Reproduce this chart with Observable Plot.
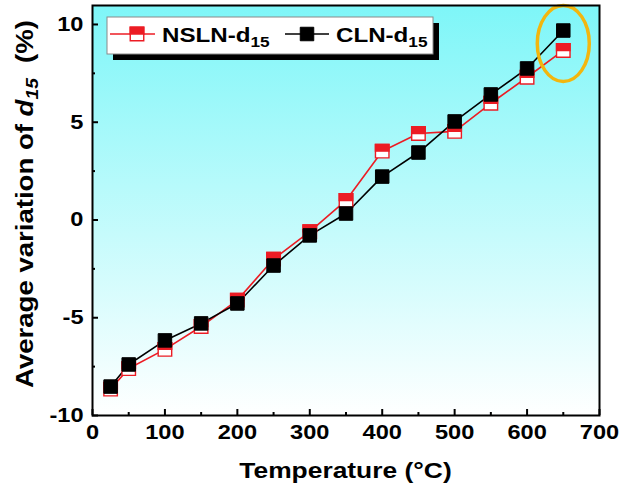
<!DOCTYPE html>
<html><head><meta charset="utf-8">
<script src="https://cdn.jsdelivr.net/npm/d3@7"></script>
<script src="https://cdn.jsdelivr.net/npm/@observablehq/plot@0.6"></script>
<style>
body{margin:0;background:#fff}
#chart{position:relative;width:621px;height:490px}
</style>
</head><body><div id="chart"></div>
<script>
// ---- data ----
const temperatures = [25, 50, 100, 150, 200, 250, 300, 350, 400, 450, 500, 550, 600, 650];
const nslnValues   = [-8.65, -7.6, -6.62, -5.45, -4.1, -2.0, -0.6, 1.0, 3.52, 4.42, 4.53, 5.97, 7.3, 8.67];
const clnValues    = [-8.52, -7.39, -6.16, -5.29, -4.27, -2.33, -0.79, 0.33, 2.22, 3.45, 5.04, 6.42, 7.75, 9.69];
const seriesNames  = ["NSLN-d", "CLN-d"];
const seriesSub    = "15";
const xTicks       = [0, 100, 200, 300, 400, 500, 600, 700];
const xMinorTicks  = [50, 150, 250, 350, 450, 550, 650];
const yTicks       = [-10, -5, 0, 5, 10];
const yMinorTicks  = [-7.5, -2.5, 2.5, 7.5];
const xLabel = "Temperature (°C)";
const highlightT = 650;

const RED = "#ec1c24";
const nsln = temperatures.map((t, i) => ({t, v: nslnValues[i]}));
const cln  = temperatures.map((t, i) => ({t, v: clnValues[i]}));
const hi = temperatures.indexOf(highlightT);
const hl = [{t: highlightT, v: (nslnValues[hi] + clnValues[hi]) / 2}];

// custom symbols
const sq = {draw(c, size) { const w = Math.sqrt(size) / 2; c.moveTo(-w, -w); c.lineTo(w, -w); c.lineTo(w, w); c.lineTo(-w, w); c.closePath(); }};
const halfTop = {draw(c, size) { const w = Math.sqrt(size) / 2; c.moveTo(-w, -w); c.lineTo(w, -w); c.lineTo(w, 0); c.lineTo(-w, 0); c.closePath(); }};
const ellipseSym = {draw(c) { const rx = 26, ry = 38, k = 0.5523;
  c.moveTo(rx, 0);
  c.bezierCurveTo(rx, k*ry, k*rx, ry, 0, ry);
  c.bezierCurveTo(-k*rx, ry, -rx, k*ry, -rx, 0);
  c.bezierCurveTo(-rx, -k*ry, -k*rx, -ry, 0, -ry);
  c.bezierCurveTo(k*rx, -ry, rx, -k*ry, rx, 0);
  c.closePath(); }};
const side = 13.5;
const R = side / Math.sqrt(Math.PI);

const plot = Plot.plot({
  width: 621, height: 490,
  marginLeft: 92, marginRight: 22, marginTop: 5, marginBottom: 75,
  x: {domain: [0, 700]},
  y: {domain: [-10, 10.97]},
  style: {fontFamily: "'Liberation Sans', Arial, sans-serif", fontSize: "20px", fontWeight: "bold", color: "black", background: "transparent", overflow: "visible"},
  marks: [
    Plot.frame({fill: "url(#bgGrad)", stroke: "none"}),
    Plot.line(nsln, {x: "t", y: "v", stroke: RED, strokeWidth: 1.6}),
    Plot.line(cln, {x: "t", y: "v", stroke: "black", strokeWidth: 1.6}),
    Plot.dot(nsln, {x: "t", y: "v", symbol: sq, r: R, fill: "white", stroke: RED, strokeWidth: 1.4}),
    Plot.dot(nsln, {x: "t", y: "v", symbol: halfTop, r: R, fill: RED, stroke: RED, strokeWidth: 1.4}),
    Plot.dot(cln, {x: "t", y: "v", symbol: sq, r: R, fill: "black", stroke: "black", strokeWidth: 1}),
    Plot.dot(hl, {x: "t", y: "v", symbol: ellipseSym, r: 1, fill: "none", stroke: "#f2b60e", strokeWidth: 3.5, dy: 3}),
    Plot.axisX({ticks: xTicks, tickSize: -6, tickPadding: 15, tickFormat: d => String(d), label: null, strokeWidth: 2}),
    Plot.axisX({ticks: xMinorTicks, tickSize: -3, tickFormat: () => "", label: null, strokeWidth: 2}),
    Plot.axisY({ticks: yTicks, tickSize: -6, tickPadding: 15, tickFormat: d => String(d), label: null, strokeWidth: 2}),
    Plot.axisY({ticks: yMinorTicks, tickSize: -3, tickFormat: () => "", label: null, strokeWidth: 2}),
    Plot.frame({stroke: "black", strokeWidth: 2})
  ]
});

const svg = d3.select(plot);
const defs = svg.insert("defs", ":first-child");
const g = defs.append("linearGradient").attr("id", "bgGrad").attr("x1", 0).attr("y1", 0).attr("x2", 0).attr("y2", 1);
g.append("stop").attr("offset", "0%").attr("stop-color", "#7ef6f8");
g.append("stop").attr("offset", "100%").attr("stop-color", "#ffffff");

// stretch tick labels horizontally about their anchor (reference text is wide)
svg.selectAll('g[aria-label="x-axis tick label"] text, g[aria-label="y-axis tick label"] text').each(function() {
  const tr = this.getAttribute("transform") || "";
  this.setAttribute("transform", tr + " scale(1.18,1)");
});

// x label
svg.append("text").attr("transform", "translate(345.5,478) scale(1.2,1)").attr("text-anchor", "middle")
  .style("font-size", "22px").style("font-weight", "bold")
  .text(xLabel);

// y label
const yl = svg.append("text").attr("transform", "translate(33,204) rotate(-90)").attr("text-anchor", "middle")
  .attr("textLength", 368).attr("lengthAdjust", "spacingAndGlyphs")
  .style("font-size", "23px").style("font-weight", "bold").style("white-space", "pre");
yl.append("tspan").text("Average variation of ");
yl.append("tspan").style("font-style", "italic").text("d");
yl.append("tspan").style("font-style", "italic").style("font-size", "16px").attr("dy", 5).text(seriesSub);
yl.append("tspan").attr("dy", -5).text("  (%)");

// legend
const lg = svg.append("g");
lg.append("rect").attr("x", 113).attr("y", 23).attr("width", 326).attr("height", 37).attr("fill", "black");
lg.append("rect").attr("x", 107).attr("y", 17).attr("width", 326).attr("height", 37).attr("fill", "white").attr("stroke", "#8a8a8a").attr("stroke-width", 1);
const entries = [
  {name: seriesNames[0], x0: 110, x1: 155, mx: 137, tx: 162, color: RED, half: true},
  {name: seriesNames[1], x0: 285, x1: 329, mx: 307, tx: 336, color: "black", half: false}
];
const symSize = side * side;
for (const e of entries) {
  lg.append("line").attr("x1", e.x0).attr("x2", e.x1).attr("y1", 34).attr("y2", 34).attr("stroke", e.color).attr("stroke-width", 1.6);
  if (e.half) {
    lg.append("path").attr("transform", `translate(${e.mx},34)`).attr("d", d3.symbol(sq, symSize)()).attr("fill", "white").attr("stroke", e.color).attr("stroke-width", 1.4);
    lg.append("path").attr("transform", `translate(${e.mx},34)`).attr("d", d3.symbol(halfTop, symSize)()).attr("fill", e.color).attr("stroke", e.color).attr("stroke-width", 1.4);
  } else {
    lg.append("path").attr("transform", `translate(${e.mx},34)`).attr("d", d3.symbol(sq, symSize)()).attr("fill", "black").attr("stroke", "black");
  }
  const t = lg.append("text").attr("text-anchor", "start").attr("transform", `translate(${e.tx},42) scale(1.15,1)`).style("font-size", "21px").style("font-weight", "bold");
  t.append("tspan").text(e.name);
  t.append("tspan").attr("dy", 5).style("font-size", "15px").text(seriesSub);
}

document.getElementById("chart").appendChild(plot);
</script>
</body></html>
